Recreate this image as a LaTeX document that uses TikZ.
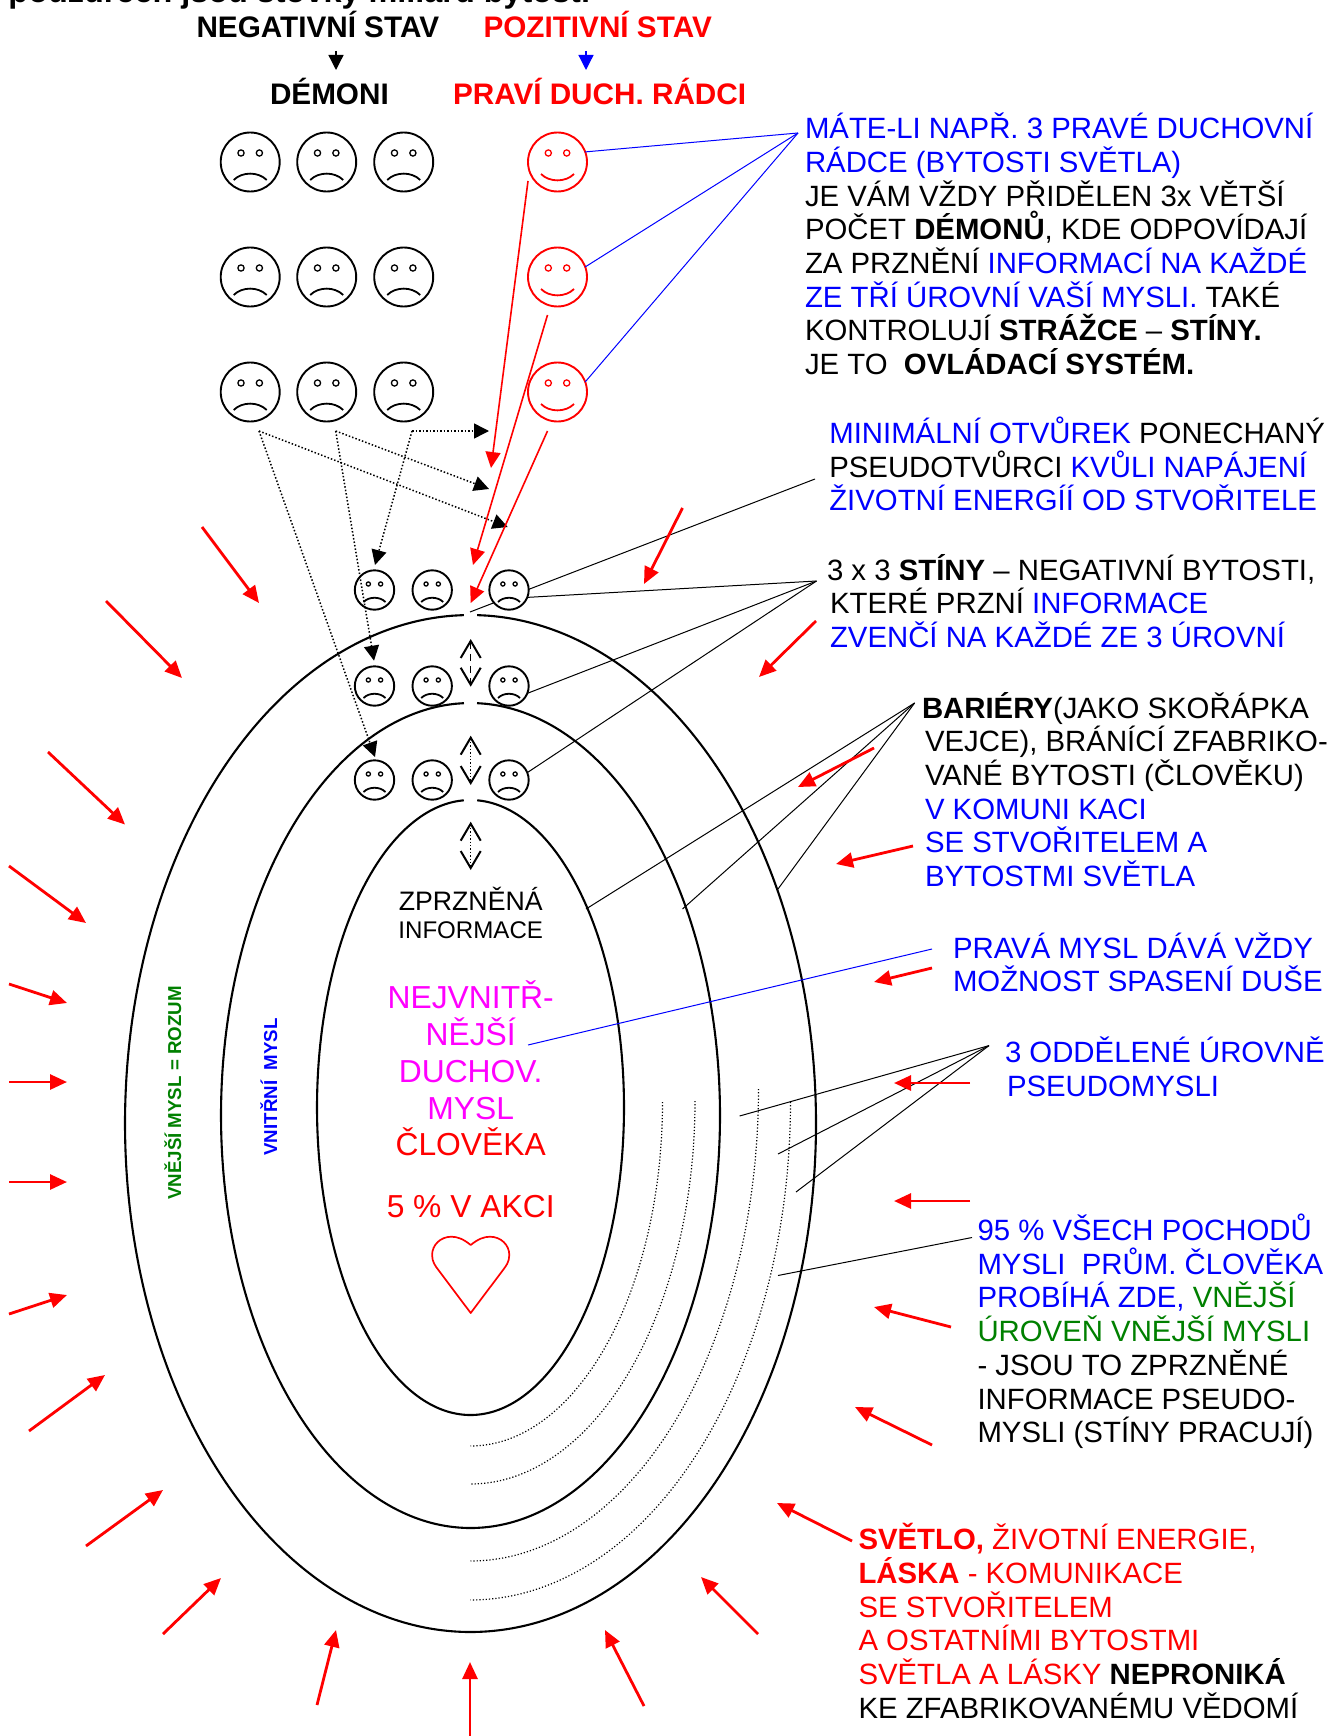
\documentclass[tikz,border=0pt]{standalone}
\usepackage{fontspec}
\setmainfont{Liberation Sans}
\usetikzlibrary{arrows.meta}
\definecolor{mygreen}{RGB}{0,128,0}
\definecolor{myred}{RGB}{255,0,0}
\definecolor{myblue}{RGB}{0,0,255}
\definecolor{mymag}{RGB}{255,0,255}
\newcommand\rd[1]{\textcolor{myred}{#1}}
\newcommand\bl[1]{\textcolor{myblue}{#1}}
\newcommand\gr[1]{\textcolor{mygreen}{#1}}
% name, x, first baseline y, lines
\newcommand\tblock[4]{\node[txtblock] (#1) at (#2,#3-24) {\rule{0pt}{24pt}#4};}
% name, x, y, scale, size, colour
\newcommand\facebase[6]{%
  \node[facecircle,minimum size=#5pt,draw=#6] (#1) at (#2,#3) {};
  \begin{scope}[shift={(#2,#3)},scale=#4]
    \draw[#6,line width=1.3pt] (-9.2,-9) circle[radius=3.1] (9.2,-9) circle[radius=3.1];
}
\newcommand\sadface[5]{\facebase{#1}{#2}{#3}{#4}{#5}{black}
    \draw[black,line width=1.8pt] (-16.5,18) .. controls (-8,9.5) and (8,9.5) .. (16.5,18);
  \end{scope}}
\newcommand\happyface[3]{\facebase{#1}{#2}{#3}{1}{59}{myred}
    \draw[myred,line width=1.8pt] (-16.5,12) .. controls (-8,20.5) and (8,20.5) .. (16.5,12);
  \end{scope}}
% y centre, rx, ry, half gap start angle
\newcommand\mindshell[4]{\draw[shell] plot[domain=#4:{360-#4},samples=180,smooth] ({470.5+#2*sin(\x)},{#1-#3*cos(\x)});}
\newcommand\levelarc[3]{\draw[levelline] plot[domain=90:180,samples=60,smooth] ({470.5+#2*sin(\x)},{#1-#3*cos(\x)});}
\tikzset{
  x=1pt,y=-1pt,
  txt/.style={inner sep=0pt,outer sep=0pt,font=\fontsize{29.35}{33.7}\selectfont},
  txtblock/.style={txt,anchor=north west,align=left},
  head/.style={inner sep=0pt,outer sep=0pt,anchor=base west,font=\fontsize{29.7}{33.7}\selectfont\bfseries},
  centertxt/.style={inner sep=0pt,outer sep=0pt,anchor=base,font=\fontsize{31.8}{37}\selectfont},
  sidetxt/.style={inner sep=0pt,outer sep=0pt,anchor=base,rotate=90,font=\fontsize{18.7}{22}\selectfont\bfseries},
  facecircle/.style={circle,fill=white,inner sep=0pt,outer sep=0pt,line width=1.9pt},
  shell/.style={black,line width=2.1pt},
  levelline/.style={black,line width=1.2pt,dotted},
  thin line/.style={black,line width=1pt},
  blue line/.style={myblue,line width=1pt},
  outer arrow/.style={myred,line width=2.8pt,-{Triangle[length=17pt,width=15pt]}},
  inner arrow/.style={myred,line width=1.6pt,-{Triangle[length=16pt,width=15pt]}},
  dot arrow/.style={black,line width=1.5pt,dotted,-{Triangle[length=15pt,width=15pt]}},
  both barb/.style={black,line width=1.4pt,{Straight Barb[length=17pt,width=20pt,line width=2pt]}-{Straight Barb[length=17pt,width=20pt,line width=2pt]}},
  small arrow/.style={line width=1.3pt,-{Triangle[length=15pt,width=15pt]}},
}
\begin{document}
\begin{tikzpicture}
\useasboundingbox (0,0) rectangle (1333,1736);
% ---- fan points
\coordinate (fanB) at (798,133);
\coordinate (fanM) at (815,479);
\coordinate (fanS) at (816.5,581);
\coordinate (fanR) at (914.6,703);
\coordinate (fanP) at (932,949);
\coordinate (fanU) at (989,1045.6);
\coordinate (fanV) at (972,1237.5);
% ---- lines under the faces
\coordinate (gapM) at (470,612);
\draw[thin line] (fanM) -- (gapM);
% ---- top texts
\node[head,font=\fontsize{32.4}{33.7}\selectfont\bfseries] (title) at (8.5,2.5) {pouzdřeen jsou stovky miliard bytostí};
\node[head] (neg) at (196.5,37.3) {NEGATIVNÍ STAV};
\node[head,myred] (pos) at (483.5,37.3) {POZITIVNÍ STAV};
\node[head] (dem) at (270,105) {DÉMONI};
\node[head,myred] (rad) at (453,105) {PRAVÍ DUCH. RÁDCI};
\coordinate (na) at (336,51); \coordinate (nb) at (336,70);
\coordinate (pa) at (586,51); \coordinate (pb) at (586,70);
\draw[small arrow,black] (na) -- (nb);
\draw[small arrow,myblue] (pa) -- (pb);
% ---- big faces
\foreach \r/\yy in {1/162,2/277,3/392}{
  \sadface{d\r1}{250.2}{\yy}{1}{59}
  \sadface{d\r2}{326.7}{\yy}{1}{59}
  \sadface{d\r3}{403.7}{\yy}{1}{59}
  \happyface{r\r}{557.5}{\yy}
}
% ---- small faces
\foreach \r/\yy in {1/590,2/686,3/780}{
  \sadface{s\r1}{374.5}{\yy}{0.667}{39.4}
  \sadface{s\r2}{432.2}{\yy}{0.667}{39.4}
  \sadface{s\r3}{509}{\yy}{0.667}{39.4}
}
% ---- nested minds
\mindshell{1123.5}{345.5}{508.5}{1.1}
\mindshell{1115.5}{249.5}{412.5}{1.5}
\mindshell{1107.5}{153.5}{307.5}{2.5}
\levelarc{1102}{192}{344}
\levelarc{1101}{224.5}{383}
\levelarc{1089}{288}{472}
\levelarc{1102}{320}{498}
% ---- blue fan
\draw[blue line] (fanB) -- (r1.20);
\draw[blue line] (fanB) -- (r2.20);
\draw[blue line] (fanB) -- (r3.20);
% ---- black fans
\draw[thin line] (fanS) -- (s13.-22);
\draw[thin line] (fanS) -- (s23.-22);
\draw[thin line] (fanS) -- (s33.22);
\coordinate (br1) at (586,909); \coordinate (br2) at (682.5,909); \coordinate (br3) at (778,889);
\draw[thin line] (fanR) -- (br1);
\draw[thin line] (fanR) -- (br2);
\draw[thin line] (fanR) -- (br3);
\coordinate (pr1) at (528,1045);
\draw[blue line] (fanP) -- (pr1);
\coordinate (ur1) at (739.6,1116); \coordinate (ur2) at (778,1154); \coordinate (ur3) at (796,1192);
\draw[thin line] (fanU) -- (ur1);
\draw[thin line] (fanU) -- (ur2);
\draw[thin line] (fanU) -- (ur3);
\coordinate (vr1) at (778,1275.5);
\draw[thin line] (fanV) -- (vr1);
% ---- dotted demon arrows
\coordinate (o1) at (259,431); \coordinate (o2) at (335.7,431); \coordinate (o3) at (412,431);
\coordinate (t1) at (489,431); \coordinate (t2) at (375,565);
\coordinate (t3) at (507.7,527); \coordinate (t4) at (375,757);
\coordinate (t5) at (489,489); \coordinate (t6) at (374,660.7);
\draw[dot arrow] (o3) -- (t1);
\draw[dot arrow] (o3) -- (t2);
\draw[dot arrow] (o1) -- (t3);
\draw[dot arrow] (o1) -- (t4);
\draw[dot arrow] (o2) -- (t5);
\draw[dot arrow] (o2) -- (t6);
% ---- up/down arrows
\coordinate (u1) at (470.7,639); \coordinate (v1) at (470.7,686.7);
\coordinate (u2) at (470.7,735.7); \coordinate (v2) at (470.7,785);
\coordinate (u3) at (470.7,821.7); \coordinate (v3) at (470.7,870);
\draw[both barb,dashed,dash pattern=on 7pt off 5pt] (u1) -- (v1);
\draw[both barb,dotted] (u2) -- (v2);
\draw[both barb,dotted] (u3) -- (v3);
% ---- inner red arrows
\foreach \a/\b/\c/\d [count=\i] in {528/181/491/468,547.5/315/473/565,547.5/431/470.7/603}{
  \coordinate (ia\i) at (\a,\b); \coordinate (ib\i) at (\c,\d);
  \draw[inner arrow] (ia\i) -- (ib\i);
}
% ---- light arrows around
\foreach \a/\b/\c/\d [count=\i] in {
 202/527/259/603, 106/601/182/678, 48/752/125/824.5, 9/866/86/923, 9/984/67/1003,
 9/1082/67/1082, 9/1182/67/1182, 9/1314/67/1295, 29/1431/105/1375, 86/1546/163/1490,
 163/1634/221/1578, 317/1705/336/1630, 470/1736/470/1662, 644/1706/605/1630, 758/1634/701/1577,
 852/1541/777/1503, 932/1445/855/1407, 951/1327/874/1307, 970/1201/894/1201, 970/1083/894/1083,
 932/968/874/982, 913/846/836/864, 874/748/798/787, 816/621/759/677, 682.5/508/644/584}{
  \coordinate (la\i) at (\a,\b); \coordinate (lb\i) at (\c,\d);
  \draw[outer arrow] (la\i) -- (lb\i);
}
% ---- right texts
\tblock{tA}{805}{137}{\bl{MÁTE-LI NAPŘ. 3 PRAVÉ DUCHOVNÍ}\\\bl{RÁDCE (BYTOSTI SVĚTLA)}\\JE VÁM VŽDY PŘIDĚLEN 3x VĚTŠÍ\\POČET \textbf{DÉMONŮ}, KDE ODPOVÍDAJÍ\\ZA PRZNĚNÍ \bl{INFORMACÍ NA KAŽDÉ}\\\bl{ZE TŘÍ ÚROVNÍ VAŠÍ MYSLI.} TAKÉ\\KONTROLUJÍ \textbf{STRÁŽCE} – \textbf{STÍNY.}\\JE TO \ \textbf{OVLÁDACÍ SYSTÉM.}}
\tblock{tB}{829.3}{441}{\bl{MINIMÁLNÍ OTVŮREK} PONECHANÝ\\PSEUDOTVŮRCI \bl{KVŮLI NAPÁJENÍ}\\\bl{ŽIVOTNÍ ENERGÍÍ OD STVOŘITELE}}
\tblock{tC}{830}{578}{\hspace*{-3pt}3 x 3 \textbf{STÍNY} – NEGATIVNÍ BYTOSTI,\\KTERÉ PRZNÍ \bl{INFORMACE}\\\bl{ZVENČÍ NA KAŽDÉ ZE 3 ÚROVNÍ}}
\tblock{tD}{925}{716}{\hspace*{-3pt}\textbf{BARIÉRY}(JAKO SKOŘÁPKA\\VEJCE), BRÁNÍCÍ ZFABRIKO-\\VANÉ BYTOSTI (ČLOVĚKU)\\\bl{V KOMUNI KACI}\\\bl{SE STVOŘITELEM A}\\\bl{BYTOSTMI SVĚTLA}}
\tblock{tE}{953}{956.5}{\bl{PRAVÁ MYSL DÁVÁ VŽDY}\\\bl{MOŽNOST SPASENÍ DUŠE}}
\tblock{tF}{1005}{1061}{\bl{3 ODDĚLENÉ ÚROVNĚ}\\\hspace*{2pt}\bl{PSEUDOMYSLI}}
\tblock{tG}{977.5}{1238}{\bl{95 \% VŠECH POCHODŮ}\\\bl{MYSLI \ PRŮM. ČLOVĚKA}\\\bl{PROBÍHÁ ZDE,} \gr{VNĚJŠÍ}\\\gr{ÚROVEŇ VNĚJŠÍ MYSLI}\\- JSOU TO ZPRZNĚNÉ\\INFORMACE PSEUDO-\\MYSLI (STÍNY PRACUJÍ)}
\tblock{tH}{858.5}{1547.5}{\rd{\textbf{SVĚTLO,} ŽIVOTNÍ ENERGIE,}\\\rd{\textbf{LÁSKA} - KOMUNIKACE}\\\rd{SE STVOŘITELEM}\\\rd{A OSTATNÍMI BYTOSTMI}\\\rd{SVĚTLA A LÁSKY} \textbf{NEPRONIKÁ}\\KE ZFABRIKOVANÉMU VĚDOMÍ}
% ---- centre texts
\node[centertxt,font=\fontsize{26.7}{30}\selectfont] (cz) at (470.7,910) {ZPRZNĚNÁ};
\node[centertxt,font=\fontsize{24.1}{30}\selectfont] (ci) at (470.7,938.5) {INFORMACE};
\node[centertxt,mymag] (c1) at (470.7,1008) {NEJVNITŘ-};
\node[centertxt,mymag] (c2) at (470.7,1045.5) {NĚJŠÍ};
\node[centertxt,mymag] (c3) at (470.7,1082.7) {DUCHOV.};
\node[centertxt,mymag] (c4) at (470.7,1119.5) {MYSL};
\node[centertxt,myred] (c5) at (470.7,1155.5) {ČLOVĚKA};
\node[centertxt,myred] (c6) at (470.7,1217.7) {5 \% V AKCI};
\draw[myred,line width=1.7pt,line join=round] (470.7,1245) .. controls (478,1239) and (484,1236.7) .. (490,1236.7)
  .. controls (501,1236.7) and (509.3,1245) .. (509.3,1255) .. controls (509.3,1262) and (506,1266) .. (503,1270)
  -- (470.7,1313) -- (438.4,1270) .. controls (435.4,1266) and (432.1,1262) .. (432.1,1255)
  .. controls (432.1,1245) and (440.4,1236.7) .. (451.4,1236.7) .. controls (457.4,1236.7) and (463.4,1239) .. cycle;
% ---- side texts
\node[sidetxt,mygreen] (sv) at (181,1093) {VNĚJŠÍ MYSL = ROZUM};
\node[sidetxt,myblue] (si) at (277,1087) {VNITŘNÍ \ MYSL};
\end{tikzpicture}
\end{document}
